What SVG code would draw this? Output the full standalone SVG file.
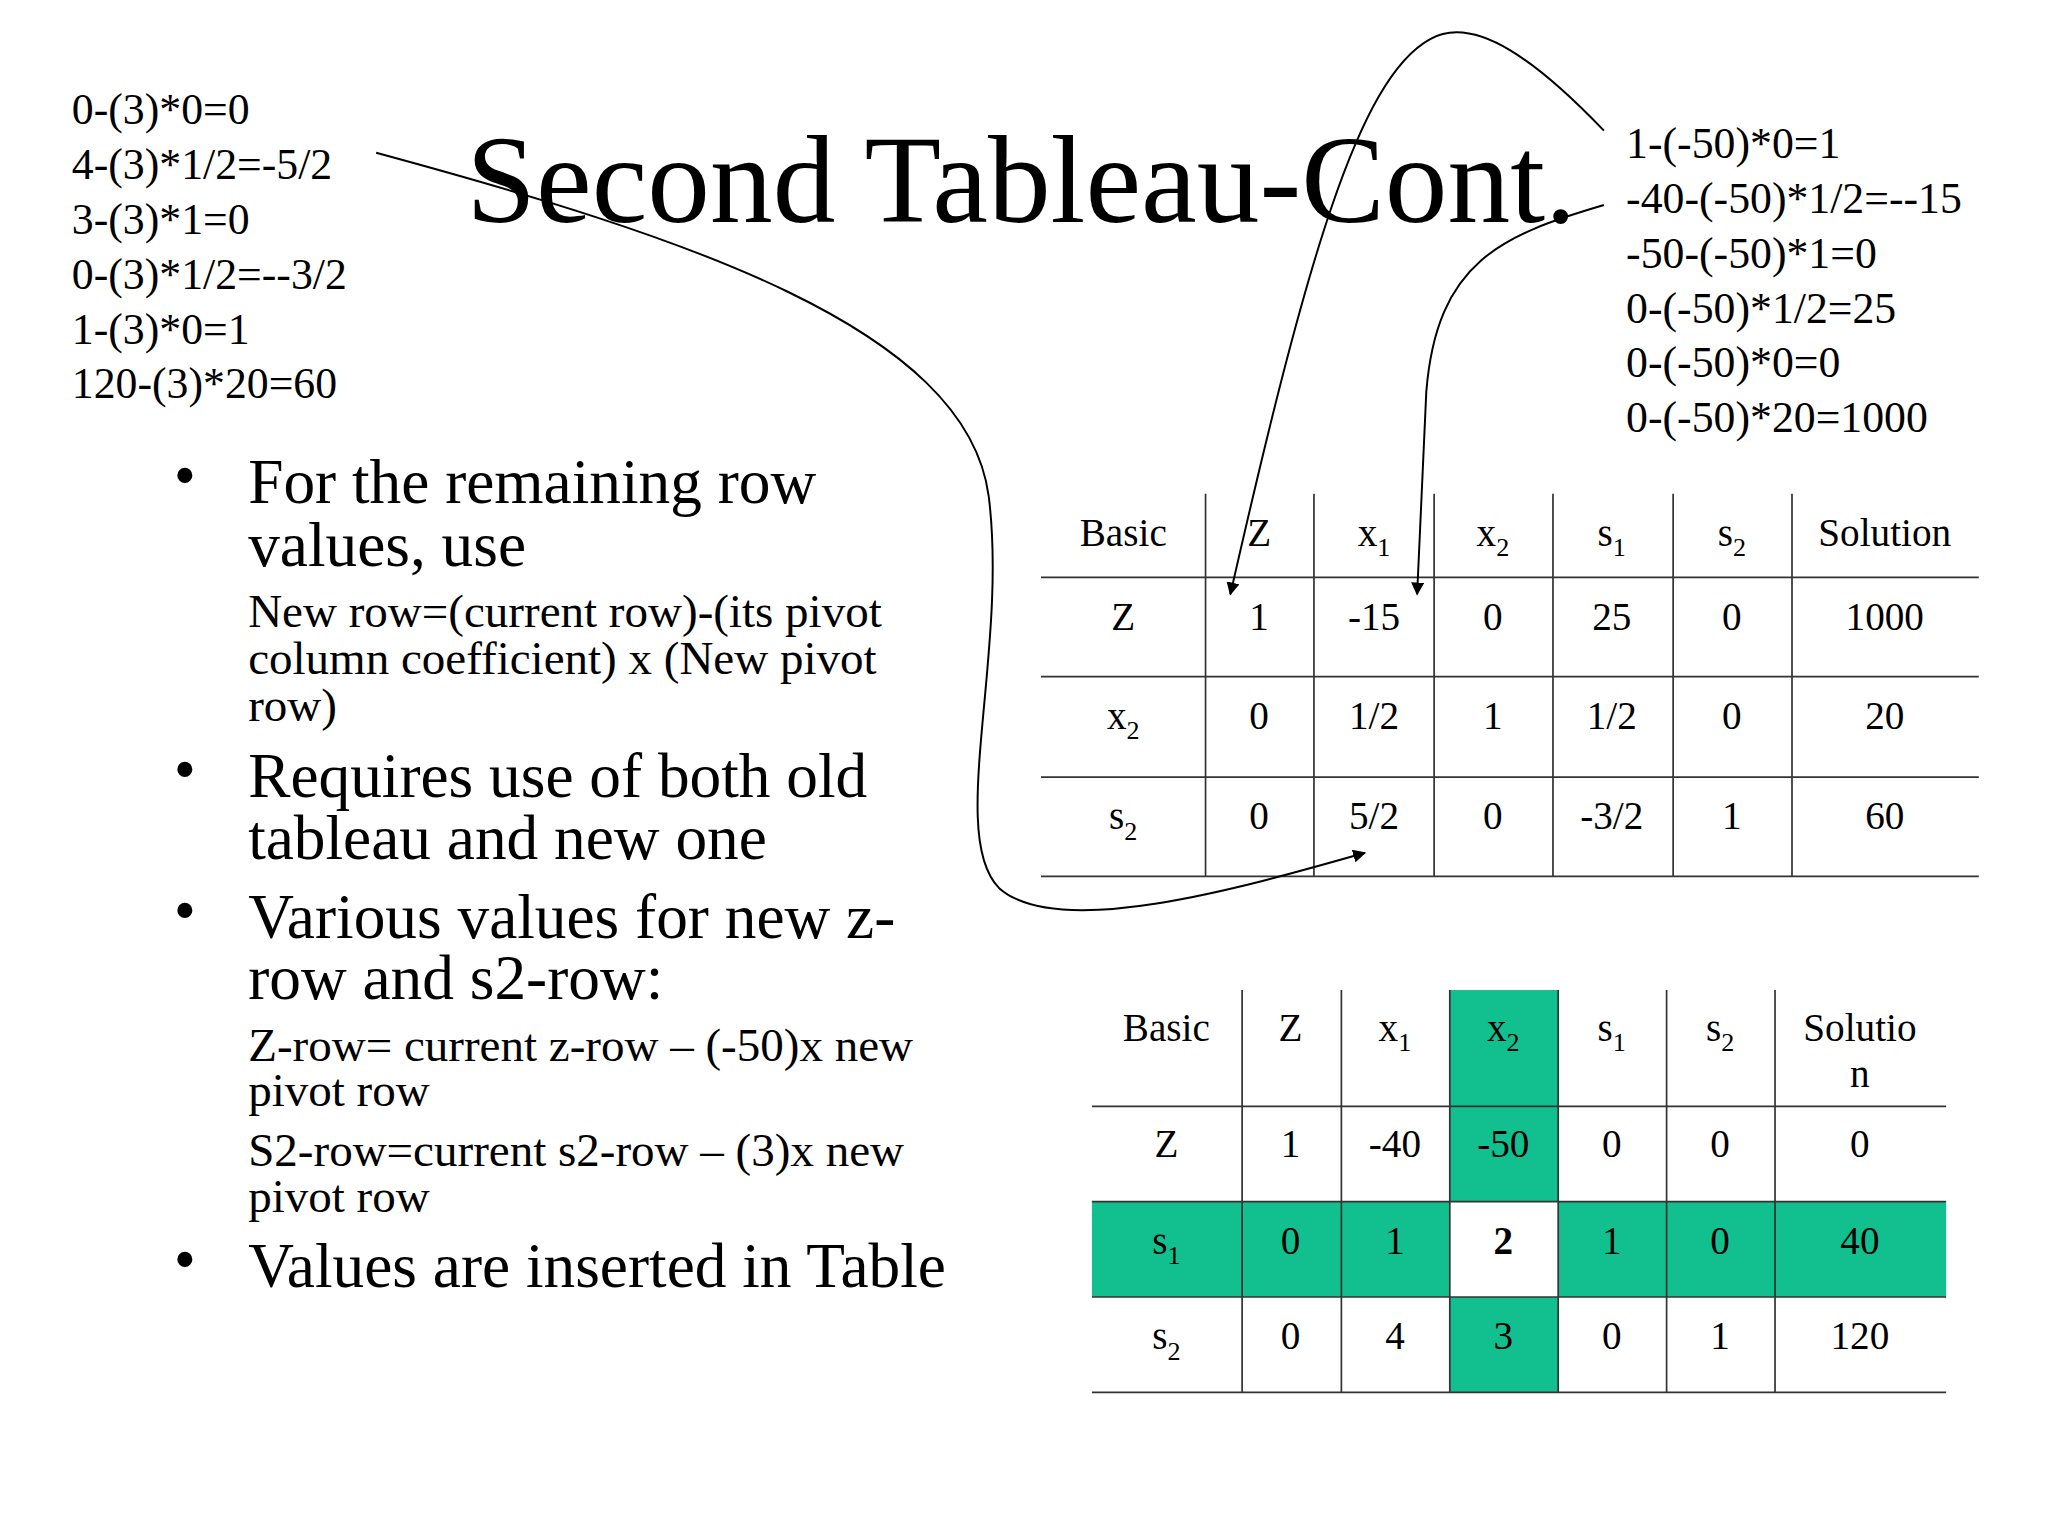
<svg xmlns="http://www.w3.org/2000/svg" width="2048" height="1536" viewBox="0 0 2048 1536">
<style>
text{font-family:"Liberation Serif","Times New Roman",serif;fill:#000}
.c{font-size:33.5px}
.t{font-size:96px}
.b{font-size:48.5px}
.s{font-size:36px}
.tb{font-size:30px;text-anchor:middle}
.sub{font-size:20px}
.ln{stroke:#333;stroke-width:1.3;fill:none}
.ar{stroke:#000;stroke-width:1.5;fill:none;marker-end:url(#ah)}
</style>
<defs><marker id="ah" markerWidth="10" markerHeight="10" refX="9" refY="5" orient="auto" markerUnits="userSpaceOnUse"><path d="M0,0 L10,5 L0,10 z" fill="#000"/></marker></defs>
<rect width="2048" height="1536" fill="#fff"/>
<g transform="scale(1.30612)">
<g id="title"><text class="t" x="357" y="170">Second Tableau-Cont.</text></g>
<g id="left-calcs">
<text class="c" x="55" y="95">0-(3)*0=0</text>
<text class="c" x="55" y="137">4-(3)*1/2=-5/2</text>
<text class="c" x="55" y="179">3-(3)*1=0</text>
<text class="c" x="55" y="221">0-(3)*1/2=--3/2</text>
<text class="c" x="55" y="263">1-(3)*0=1</text>
<text class="c" x="55" y="305">120-(3)*20=60</text>
</g>
<g id="right-calcs">
<text class="c" x="1245" y="121">1-(-50)*0=1</text>
<text class="c" x="1245" y="163">-40-(-50)*1/2=--15</text>
<text class="c" x="1245" y="205">-50-(-50)*1=0</text>
<text class="c" x="1245" y="247">0-(-50)*1/2=25</text>
<text class="c" x="1245" y="289">0-(-50)*0=0</text>
<text class="c" x="1245" y="331">0-(-50)*20=1000</text>
</g>
<g id="bullets">
<text class="b" x="133" y="380">•</text>
<text class="b" x="190" y="385">For the remaining row</text>
<text class="b" x="190" y="433">values, use</text>
<text class="s" x="190" y="480">New row=(current row)-(its pivot</text>
<text class="s" x="190" y="516">column coefficient) x (New pivot</text>
<text class="s" x="190" y="552">row)</text>
<text class="b" x="133" y="605">•</text>
<text class="b" x="190" y="610">Requires use of both old</text>
<text class="b" x="190" y="658">tableau and new one</text>
<text class="b" x="133" y="713">•</text>
<text class="b" x="190" y="718">Various values for new z-</text>
<text class="b" x="190" y="765">row and s2-row:</text>
<text class="s" x="190" y="812">Z-row= current z-row – (-50)x new</text>
<text class="s" x="190" y="847">pivot row</text>
<text class="s" x="190" y="893">S2-row=current s2-row – (3)x new</text>
<text class="s" x="190" y="928">pivot row</text>
<text class="b" x="133" y="980">•</text>
<text class="b" x="190" y="985">Values are inserted in Table</text>
</g>
<g id="table1">
<path class="ln" d="M797,442H1515M797,518H1515M797,595H1515M797,671H1515M923,378V671M1006,378V671M1098,378V671M1189,378V671M1281,378V671M1372,378V671"/>
<text class="tb" x="860" y="418">Basic</text>
<text class="tb" x="964" y="418">Z</text>
<text class="tb" x="1052" y="418">x<tspan class="sub" dy="8">1</tspan></text>
<text class="tb" x="1143" y="418">x<tspan class="sub" dy="8">2</tspan></text>
<text class="tb" x="1234" y="418">s<tspan class="sub" dy="8">1</tspan></text>
<text class="tb" x="1326" y="418">s<tspan class="sub" dy="8">2</tspan></text>
<text class="tb" x="1443" y="418">Solution</text>
<text class="tb" x="860" y="482">Z</text><text class="tb" x="964" y="482">1</text><text class="tb" x="1052" y="482">-15</text><text class="tb" x="1143" y="482">0</text><text class="tb" x="1234" y="482">25</text><text class="tb" x="1326" y="482">0</text><text class="tb" x="1443" y="482">1000</text>
<text class="tb" x="860" y="558">x<tspan class="sub" dy="8">2</tspan></text><text class="tb" x="964" y="558">0</text><text class="tb" x="1052" y="558">1/2</text><text class="tb" x="1143" y="558">1</text><text class="tb" x="1234" y="558">1/2</text><text class="tb" x="1326" y="558">0</text><text class="tb" x="1443" y="558">20</text>
<text class="tb" x="860" y="635">s<tspan class="sub" dy="8">2</tspan></text><text class="tb" x="964" y="635">0</text><text class="tb" x="1052" y="635">5/2</text><text class="tb" x="1143" y="635">0</text><text class="tb" x="1234" y="635">-3/2</text><text class="tb" x="1326" y="635">1</text><text class="tb" x="1443" y="635">60</text>
</g>
<g id="table2">
<rect x="1110" y="758" width="83" height="162" fill="#12c08f"/>
<rect x="1110" y="993" width="83" height="73" fill="#12c08f"/>
<rect x="836" y="920" width="274" height="73" fill="#12c08f"/>
<rect x="1193" y="920" width="297" height="73" fill="#12c08f"/>
<path class="ln" d="M836,847H1490M836,920H1490M836,993H1490M836,1066H1490M951,758V1066M1027,758V1066M1110,758V1066M1193,758V1066M1276,758V1066M1359,758V1066"/>
<text class="tb" x="893" y="797">Basic</text>
<text class="tb" x="988" y="797">Z</text>
<text class="tb" x="1068" y="797">x<tspan class="sub" dy="8">1</tspan></text>
<text class="tb" x="1151" y="797">x<tspan class="sub" dy="8">2</tspan></text>
<text class="tb" x="1234" y="797">s<tspan class="sub" dy="8">1</tspan></text>
<text class="tb" x="1317" y="797">s<tspan class="sub" dy="8">2</tspan></text>
<text class="tb" x="1424" y="797">Solutio</text><text class="tb" x="1424" y="832">n</text>
<text class="tb" x="893" y="886">Z</text><text class="tb" x="988" y="886">1</text><text class="tb" x="1068" y="886">-40</text><text class="tb" x="1151" y="886">-50</text><text class="tb" x="1234" y="886">0</text><text class="tb" x="1317" y="886">0</text><text class="tb" x="1424" y="886">0</text>
<text class="tb" x="893" y="960">s<tspan class="sub" dy="8">1</tspan></text><text class="tb" x="988" y="960">0</text><text class="tb" x="1068" y="960">1</text><text class="tb" x="1151" y="960" font-weight="bold">2</text><text class="tb" x="1234" y="960">1</text><text class="tb" x="1317" y="960">0</text><text class="tb" x="1424" y="960">40</text>
<text class="tb" x="893" y="1033">s<tspan class="sub" dy="8">2</tspan></text><text class="tb" x="988" y="1033">0</text><text class="tb" x="1068" y="1033">4</text><text class="tb" x="1151" y="1033">3</text><text class="tb" x="1234" y="1033">0</text><text class="tb" x="1317" y="1033">1</text><text class="tb" x="1424" y="1033">120</text>
</g>
<g id="connectors">
<path class="ar" d="M288,117 C520,180 740,250 757,380 C772,500 725,640 765,680 C810,720 950,680 1045,653"/>
<path class="ar" d="M1228,100 C1180,50 1130,10 1095,30 C1040,60 1000,200 942,455"/>
<path class="ar" d="M1228,157 C1150,180 1100,200 1092,300 L1085,455"/>
</g>
</g>
</svg>
